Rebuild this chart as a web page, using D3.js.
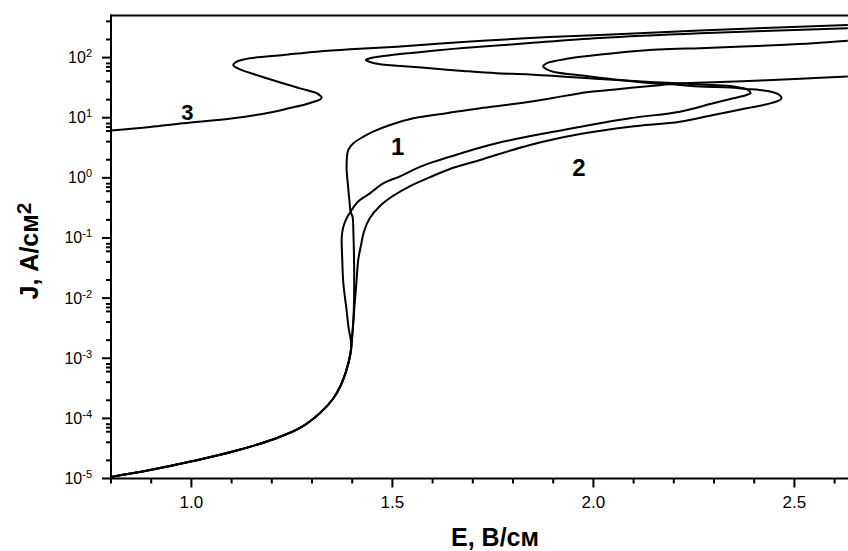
<!DOCTYPE html>
<html lang="ru">
<head>
<meta charset="utf-8">
<title>J(E)</title>
<script src="https://d3js.org/d3.v7.min.js"></script>
<style>
body { margin: 0; background: #fff; }
svg { font-family: "Liberation Sans", Arial, sans-serif; }
</style>
</head>
<body>
<div id="chart"></div>
<script>

var w = 848, h = 551;
var pLeft = 111, pRight = 848, pTop = 15.5, pBottom = 478.5;

// ---- data : [E (В/см), J (А/см2)] ----
// low-field part shared by the three steep curves
var common = [
  [0.800, 1.06e-5], [0.897, 1.38e-5], [1.004, 1.95e-5], [1.108, 2.86e-5],
  [1.213, 4.72e-5], [1.270, 6.92e-5], [1.320, 1.23e-4], [1.352, 2.10e-4],
  [1.372, 3.59e-4], [1.385, 6.14e-4], [1.395, 1.13e-3], [1.398, 1.65e-3]
];

// monotonic curve (goes straight up, then bends right)
var curveA = [
  [1.403, 4.32e-3], [1.405, 1.78e-2], [1.403, 0.121], [1.401, 0.223],
  [1.396, 0.273], [1.393, 0.428], [1.389, 0.811], [1.386, 1.53],
  [1.390, 2.90], [1.403, 3.76], [1.428, 4.83], [1.452, 5.86],
  [1.494, 7.57], [1.552, 9.78], [1.635, 11.9], [1.718, 14.4],
  [1.801, 16.9], [1.892, 20.9], [1.983, 26.5], [2.066, 30.1],
  [2.149, 34.1], [2.215, 37.4], [2.316, 39.3], [2.415, 41.6],
  [2.515, 44.6], [2.633, 48.5]
];

// curve 1 (S-shaped)
var curve1 = [
  [1.391, 3.2e-3], [1.386, 6.34e-3], [1.378, 1.76e-2], [1.375, 4.89e-2],
  [1.374, 0.105], [1.378, 0.154], [1.386, 0.212], [1.396, 0.273],
  [1.407, 0.353], [1.419, 0.428], [1.444, 0.553], [1.477, 0.811],
  [1.519, 1.06], [1.560, 1.44], [1.602, 1.84], [1.643, 2.25],
  [1.759, 3.76], [1.925, 6.25], [2.091, 9.78], [2.215, 12.6],
  [2.298, 17.4], [2.348, 21.0], [2.381, 23.9], [2.391, 25.5],
  [2.385, 28.9], [2.365, 31.6], [2.340, 33.7], [2.265, 35.7],
  [2.141, 39.3], [2.016, 44.1], [1.842, 52.4], [1.759, 54.8],
  [1.676, 59.9], [1.594, 66.4], [1.511, 73.3], [1.469, 77.3],
  [1.444, 84.6], [1.434, 91.2], [1.444, 97.3], [1.469, 104.3],
  [1.519, 114.8], [1.594, 128.8], [1.676, 144.3], [1.760, 158.8],
  [1.842, 174.8], [2.016, 211.8], [2.265, 253.5], [2.633, 306.9]
];

// curve 2 (S-shaped)
var curve2 = [
  [1.403, 4.32e-3], [1.407, 9.31e-3], [1.411, 2.0e-2], [1.415, 4.31e-2],
  [1.422, 7.63e-2], [1.429, 0.126], [1.444, 0.215], [1.469, 0.340],
  [1.501, 0.499], [1.544, 0.731], [1.594, 1.03], [1.643, 1.40],
  [1.718, 1.98], [1.842, 3.52], [1.967, 5.36], [2.091, 7.10],
  [2.215, 8.59], [2.298, 11.1], [2.381, 14.4], [2.431, 16.7],
  [2.459, 19.0], [2.468, 21.0], [2.463, 23.9], [2.447, 26.5],
  [2.414, 28.9], [2.381, 30.1], [2.340, 31.8], [2.265, 33.0],
  [2.215, 35.0], [2.149, 37.4], [2.066, 42.4], [1.983, 49.4],
  [1.900, 58.2], [1.883, 64.5], [1.875, 70.5], [1.883, 80.4],
  [1.942, 97.3], [2.025, 113.5], [2.108, 128.8], [2.191, 139.0],
  [2.265, 142.9], [2.356, 151.7], [2.464, 161.8], [2.547, 172.8],
  [2.633, 190]
];

// curve 3
var curve3 = [
  [0.800, 6.14], [0.897, 7.02], [0.980, 8.08], [1.104, 9.78],
  [1.196, 12.2], [1.245, 14.5], [1.283, 16.6], [1.307, 18.6],
  [1.320, 20.1], [1.324, 21.7], [1.320, 23.4], [1.312, 25.5],
  [1.270, 30.8], [1.187, 45.3], [1.121, 63.8], [1.108, 70.5],
  [1.104, 75.3], [1.113, 85.5], [1.146, 97.3], [1.229, 110.4],
  [1.312, 125.3], [1.395, 137.4], [1.511, 151.7], [1.676, 181.5],
  [1.842, 211.8], [2.016, 237.6], [2.265, 282.5], [2.633, 348.3]
];

// curve numbers: [text, E, J, font size]
var marks = [["1", 1.513, 2.40, 24], ["2", 1.964, 1.07, 24], ["3", 0.990, 9.16, 22]];

// axis ticks
var xMajor = [1.0, 1.5, 2.0, 2.5];
var xMinor = [0.8, 0.9, 1.1, 1.2, 1.3, 1.4, 1.6, 1.7, 1.8, 1.9, 2.1, 2.2, 2.3, 2.4, 2.6];
var yExp = [-5, -4, -3, -2, -1, 0, 1, 2];
var yMinorMult = [2, 4, 6, 7, 8];

// ---- scales ----
var x = d3.scaleLinear().domain([0.8, 2.6333]).range([pLeft, pRight]);
var y = d3.scaleLog().domain([1e-5, Math.pow(10, 2.7)]).range([pBottom, pTop]);

var svg = d3.select("#chart").append("svg")
  .attr("width", w).attr("height", h);

// ---- axes: frame and outward ticks drawn as filled bars ----
var yMajorVals = yExp.map(function(e) { return Math.pow(10, e); });
var yMinorVals = [];
yExp.forEach(function(e) {
  yMinorMult.forEach(function(m) {
    var v = m * Math.pow(10, e);
    if (v < y.domain()[1]) yMinorVals.push(v);
  });
});

var axes = svg.append("g").attr("fill", "#000");

// left axis, bottom axis, top frame
axes.append("rect").attr("x", pLeft - 1).attr("y", pTop - 1)
  .attr("width", 2).attr("height", pBottom - pTop + 2);
axes.append("rect").attr("x", pLeft - 1).attr("y", pBottom - 1)
  .attr("width", pRight - pLeft + 1).attr("height", 2);
axes.append("rect").attr("x", pLeft - 1).attr("y", pTop - 1)
  .attr("width", pRight - pLeft + 1).attr("height", 2);

var xTicks = xMajor.map(function(v) { return [v, 9]; })
  .concat(xMinor.map(function(v) { return [v, 5]; }));
axes.selectAll("rect.xtick").data(xTicks).enter().append("rect")
  .attr("class", "xtick")
  .attr("x", function(d) { return x(d[0]) - 1; })
  .attr("y", pBottom)
  .attr("width", 2)
  .attr("height", function(d) { return d[1]; });

var yTicks = yMajorVals.map(function(v) { return [v, 9]; })
  .concat(yMinorVals.map(function(v) { return [v, 5]; }));
axes.selectAll("rect.ytick").data(yTicks).enter().append("rect")
  .attr("class", "ytick")
  .attr("x", function(d) { return pLeft - d[1]; })
  .attr("y", function(d) { return y(d[0]) - 1; })
  .attr("width", function(d) { return d[1]; })
  .attr("height", 2);

// ---- curves ----
var line = d3.line()
  .x(function(d) { return x(d[0]); })
  .y(function(d) { return y(d[1]); })
  .curve(d3.curveCatmullRom.alpha(0.5));

var series = [
  common.concat(curveA),
  common.concat(curve1),
  common.concat(curve2),
  curve3
];

svg.append("g")
  .selectAll("path").data(series).enter().append("path")
  .attr("fill", "none")
  .attr("stroke", "#000")
  .attr("stroke-width", 2)
  .attr("stroke-linejoin", "round")
  .attr("d", line);

// x tick labels
svg.selectAll("text.xlab").data(xMajor).enter().append("text")
  .attr("class", "xlab")
  .attr("font-size", 17)
  .attr("x", function(d) { return x(d); })
  .attr("y", pBottom + 29.5)
  .attr("text-anchor", "middle")
  .text(function(d) { return d.toFixed(1); });

// y tick labels: 10 with exponent
var ylab = svg.selectAll("text.ylab").data(yExp).enter().append("text")
  .attr("class", "ylab")
  .attr("x", 92)
  .attr("y", function(d) { return y(Math.pow(10, d)) + 5.5; })
  .attr("text-anchor", "end");
ylab.append("tspan").attr("font-size", 16).text("10");
ylab.append("tspan").attr("font-size", 11).attr("dy", -6)
  .text(function(d) { return d < 0 ? "-" + (-d) : d; });

// curve numbers
svg.selectAll("text.mark").data(marks).enter().append("text")
  .attr("class", "mark")
  .attr("font-weight", "bold")
  .attr("x", function(d) { return x(d[1]); })
  .attr("y", function(d) { return y(d[2]); })
  .attr("font-size", function(d) { return d[3]; })
  .attr("text-anchor", "middle")
  .text(function(d) { return d[0]; });

// axis titles
svg.append("text")
  .attr("font-size", 25).attr("font-weight", "bold")
  .attr("x", 495).attr("y", 546)
  .attr("text-anchor", "middle")
  .text("E, В/см");

var ytitle = svg.append("text")
  .attr("font-size", 25).attr("font-weight", "bold")
  .attr("transform", "translate(38,251) rotate(-90)")
  .attr("text-anchor", "middle");
ytitle.append("tspan").text("J, А/см");
ytitle.append("tspan").attr("font-size", 21).attr("dy", -7).text("2");

</script>
</body>
</html>
